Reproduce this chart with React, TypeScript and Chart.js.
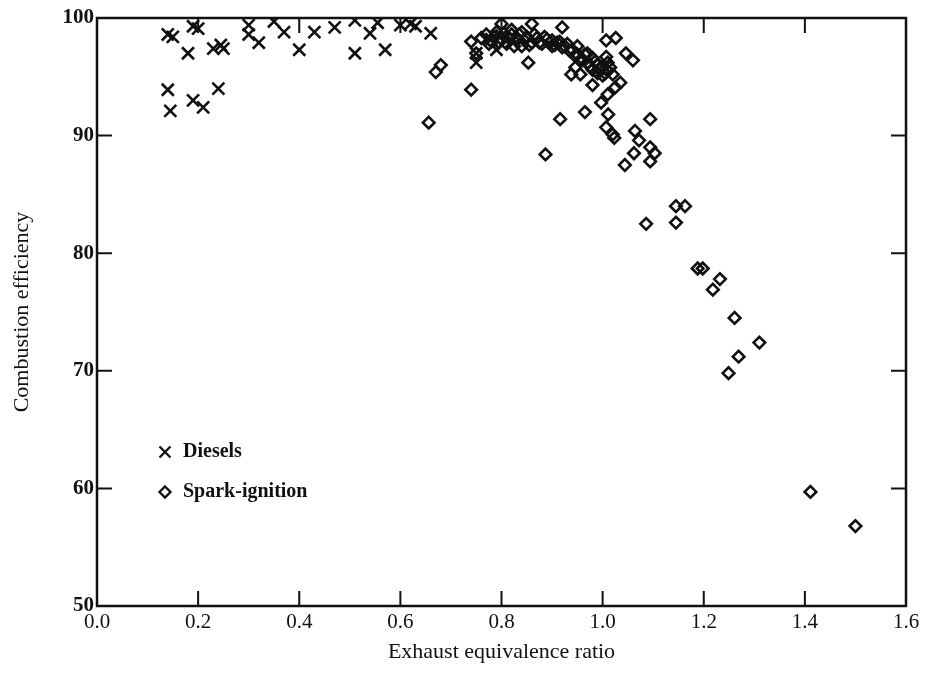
import React, { useEffect, useRef } from "react";
import { Chart, registerables } from "chart.js";

Chart.register(...registerables);

const xTickValues = [0, 0.2, 0.4, 0.6, 0.8, 1.0, 1.2, 1.4, 1.6];
const yTickValues = [50, 60, 70, 80, 90, 100];

const dieselRatio = [
  0.14, 0.15, 0.14, 0.145, 0.18, 0.19, 0.2, 0.19, 0.21, 0.24, 0.23, 0.245, 0.25,
  0.3, 0.3, 0.32, 0.35, 0.37, 0.4, 0.43, 0.47, 0.51, 0.51, 0.555, 0.54, 0.57,
  0.6, 0.62, 0.63, 0.66, 0.75, 0.75, 0.79, 0.8, 0.82, 0.84, 0.78,
];
const dieselEfficiency = [
  98.6, 98.4, 93.9, 92.1, 97.0, 99.3, 99.1, 93.0, 92.4, 94.0, 97.4, 97.7, 97.4,
  99.4, 98.6, 97.9, 99.7, 98.8, 97.3, 98.8, 99.2, 99.8, 97.0, 99.6, 98.7, 97.3,
  99.4, 99.5, 99.3, 98.7, 96.2, 97.0, 97.3, 98.5, 98.0, 98.4, 98.2,
];

const sparkRatio = [
  0.656, 0.67, 0.68, 0.74, 0.74, 0.75, 0.76, 0.77, 0.78, 0.79, 0.8, 0.8, 0.81,
  0.82, 0.82, 0.83, 0.84, 0.84, 0.85, 0.853, 0.86, 0.86, 0.87, 0.88, 0.887, 0.89,
  0.9, 0.9, 0.91, 0.916, 0.92, 0.92, 0.93, 0.938, 0.94, 0.946, 0.95, 0.95, 0.956,
  0.96, 0.965, 0.97, 0.97, 0.98, 0.98, 0.98, 0.99, 0.99, 0.997, 1.0, 1.0, 1.007,
  1.007, 1.01, 1.01, 1.01, 1.011, 1.007, 1.02, 1.02, 1.023, 1.025, 1.026, 1.035,
  1.044, 1.046, 1.06, 1.062, 1.064, 1.072, 1.086, 1.094, 1.094, 1.103, 1.094,
  1.145, 1.163, 1.145, 1.188, 1.198, 1.232, 1.218, 1.261, 1.269, 1.249, 1.31,
  1.411, 1.5,
  0.775, 0.785, 0.795, 0.805, 0.815, 0.825, 0.835, 0.845, 0.855, 0.865, 0.875,
  0.885, 0.895, 0.905, 0.915, 0.925, 0.935, 0.945, 0.955, 0.965, 0.975, 0.985,
  0.995, 1.005, 1.015,
];
const sparkEfficiency = [
  91.1, 95.4, 96.0, 93.9, 98.0, 97.0, 98.3, 98.6, 98.0, 98.8, 99.5, 98.2, 97.8,
  98.6, 99.0, 98.2, 97.6, 98.8, 98.4, 96.2, 99.5, 97.9, 98.3, 97.8, 88.4, 98.2,
  97.6, 98.1, 97.9, 91.4, 99.2, 97.5, 97.8, 95.2, 97.3, 95.8, 97.6, 96.9, 95.2,
  96.5, 92.0, 97.0, 96.2, 96.6, 95.6, 94.3, 96.0, 95.3, 92.8, 95.9, 95.1, 98.1,
  96.7, 96.2, 95.5, 93.5, 91.8, 90.7, 95.2, 90.1, 89.8, 94.1, 98.3, 94.5,
  87.5, 97.0, 96.4, 88.5, 90.4, 89.6, 82.5, 91.4, 89.0, 88.5, 87.8,
  84.0, 84.0, 82.6, 78.7, 78.7, 77.8, 76.9, 74.5, 71.2, 69.8, 72.4,
  59.7, 56.8,
  97.8, 98.4, 97.9, 98.7, 98.3, 97.6, 98.6, 98.1, 97.7, 98.6, 97.9,
  98.4, 97.9, 97.7, 98.0, 97.6, 97.2, 96.8, 96.4, 96.9, 95.9, 96.3,
  95.6, 95.3, 95.8,
];

const seriesNames = ["Diesels", "Spark-ignition"];
const xTitle = "Exhaust equivalence ratio";
const yTitle = "Combustion efficiency";

const SERIF = "'Liberation Serif', 'DejaVu Serif', serif";
const INK = "#111111";

const framePlugin = {
  id: "frameAndTicks",
  afterDatasetsDraw(chart: any) {
    const { ctx, chartArea } = chart;
    const xs = chart.scales.x;
    const ys = chart.scales.y;
    const { left, right, top, bottom } = chartArea;
    const len = 15;
    ctx.save();
    ctx.strokeStyle = INK;
    ctx.lineWidth = 2.5;
    ctx.strokeRect(left, top, right - left, bottom - top);
    ctx.lineWidth = 2;
    ctx.beginPath();
    xTickValues.slice(1, -1).forEach((v) => {
      const px = xs.getPixelForValue(v);
      ctx.moveTo(px, bottom);
      ctx.lineTo(px, bottom - len);
      ctx.moveTo(px, top);
      ctx.lineTo(px, top + len);
    });
    yTickValues.slice(1, -1).forEach((v) => {
      const py = ys.getPixelForValue(v);
      ctx.moveTo(left, py);
      ctx.lineTo(left + len, py);
      ctx.moveTo(right, py);
      ctx.lineTo(right - len, py);
    });
    ctx.stroke();

    // legend inside the plot
    const lx = left + 68;
    const ly1 = top + 434;
    const ly2 = top + 474;
    ctx.lineWidth = 2.3;
    ctx.beginPath();
    const c = 5.5;
    ctx.moveTo(lx - c, ly1 - c);
    ctx.lineTo(lx + c, ly1 + c);
    ctx.moveTo(lx + c, ly1 - c);
    ctx.lineTo(lx - c, ly1 + c);
    ctx.stroke();
    const d = 5.5;
    ctx.beginPath();
    ctx.moveTo(lx, ly2 - d);
    ctx.lineTo(lx + d, ly2);
    ctx.lineTo(lx, ly2 + d);
    ctx.lineTo(lx - d, ly2);
    ctx.closePath();
    ctx.stroke();
    ctx.fillStyle = INK;
    ctx.font = `bold 20px ${SERIF}`;
    ctx.textBaseline = "middle";
    ctx.textAlign = "left";
    ctx.fillText(seriesNames[0], lx + 18, ly1);
    ctx.fillText(seriesNames[1], lx + 18, ly2);
    ctx.restore();
  },
};

export default function App() {
  const canvasRef = useRef<HTMLCanvasElement | null>(null);

  useEffect(() => {
    if (!canvasRef.current) return;
    const diesel = dieselRatio.map((x, i) => ({ x, y: dieselEfficiency[i] }));
    const spark = sparkRatio.map((x, i) => ({ x, y: sparkEfficiency[i] }));
    const chart = new Chart(canvasRef.current, {
      type: "scatter",
      data: {
        datasets: [
          {
            label: seriesNames[0],
            data: diesel,
            pointStyle: "crossRot",
            pointRadius: 8.5,
            pointBorderWidth: 2.6,
            borderColor: INK,
            backgroundColor: INK,
          },
          {
            label: seriesNames[1],
            data: spark,
            pointStyle: "rectRot",
            pointRadius: 5.8,
            pointBorderWidth: 2.6,
            borderColor: INK,
            backgroundColor: "rgba(255,255,255,0)",
          },
        ],
      },
      options: {
        animation: false,
        responsive: true,
        maintainAspectRatio: false,
        layout: { padding: { top: 18, right: 21, bottom: 0, left: 0 } },
        plugins: {
          legend: { display: false },
          tooltip: { enabled: false },
        },
        scales: {
          x: {
            type: "linear",
            min: 0,
            max: 1.6,
            afterFit: (s: any) => {
              s.height = 70;
            },
            afterBuildTicks: (s: any) => {
              s.ticks = xTickValues.map((v) => ({ value: v }));
            },
            grid: { display: false, drawTicks: false },
            border: { display: false },
            ticks: {
              padding: 4,
              color: INK,
              font: { family: SERIF, size: 21 },
              callback: (v: any) => Number(v).toFixed(1),
            },
            title: {
              display: true,
              text: xTitle,
              color: INK,
              font: { family: SERIF, size: 22 },
              padding: { top: 0, bottom: 11 },
            },
          },
          y: {
            type: "linear",
            min: 50,
            max: 100,
            afterFit: (s: any) => {
              s.width = 97;
            },
            afterBuildTicks: (s: any) => {
              s.ticks = yTickValues.map((v) => ({ value: v }));
            },
            grid: { display: false, drawTicks: false },
            border: { display: false },
            ticks: {
              padding: 3,
              color: INK,
              font: { family: SERIF, size: 21, weight: "bold" },
              callback: (v: any) => String(v),
            },
            title: {
              display: true,
              text: yTitle,
              color: INK,
              font: { family: SERIF, size: 22 },
              padding: { top: 9, bottom: 0 },
            },
          },
        },
      },
      plugins: [framePlugin],
    });
    return () => chart.destroy();
  }, []);

  return (
    <div
      style={{
        position: "absolute",
        left: 0,
        top: 0,
        width: 927,
        height: 676,
        background: "#ffffff",
      }}
    >
      <canvas ref={canvasRef} />
    </div>
  );
}
